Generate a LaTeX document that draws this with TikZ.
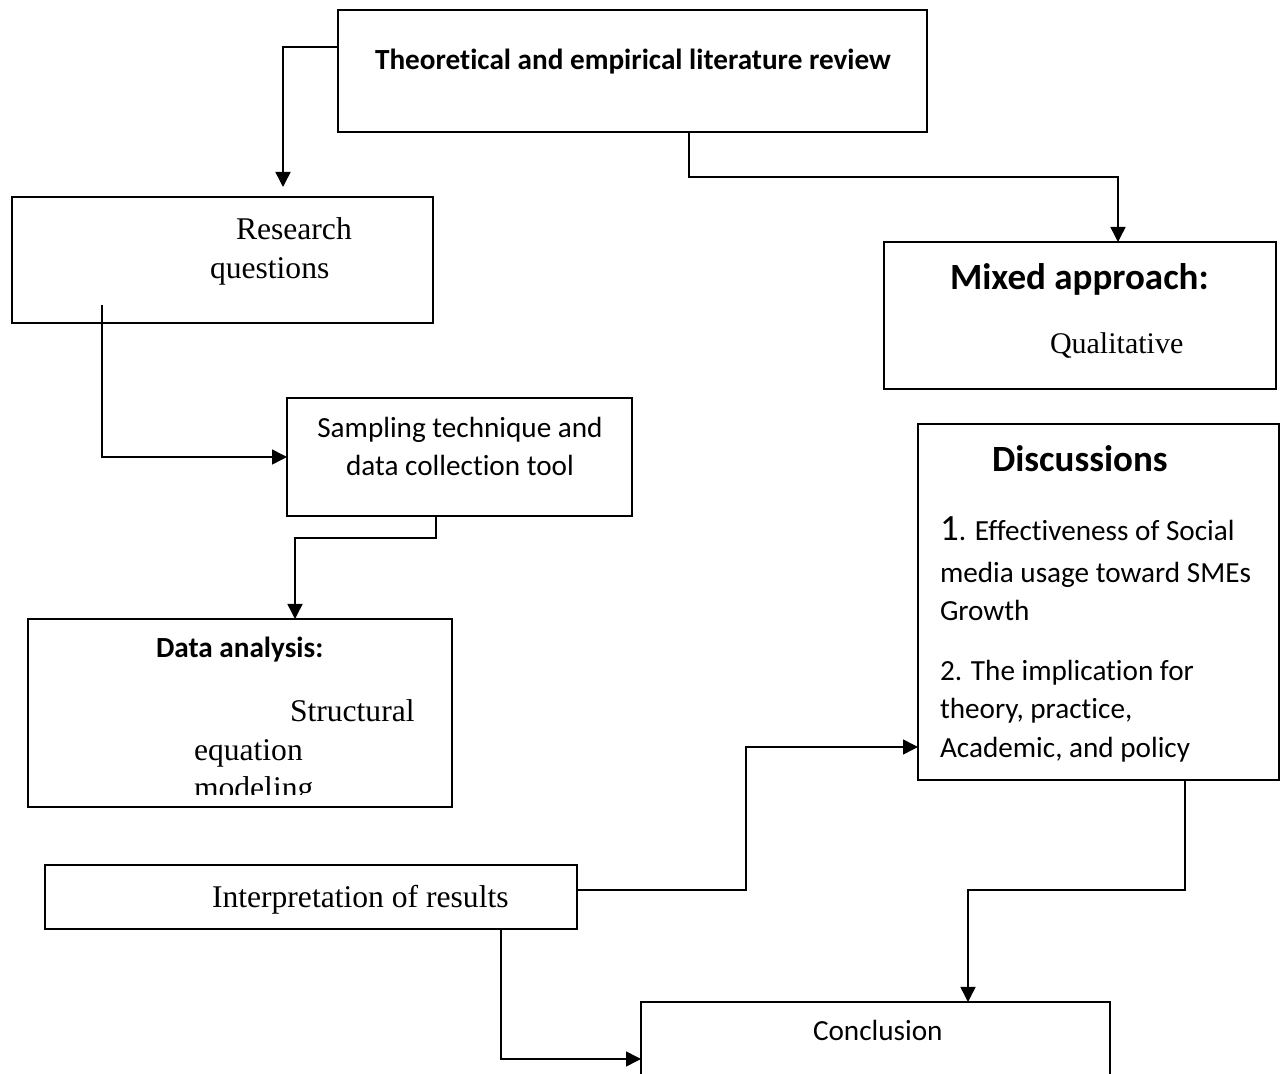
\documentclass[tikz,border=0pt]{standalone}
\usepackage{fontspec}
\usetikzlibrary{arrows.meta,calc}
\newfontfamily\calfont[Ligatures=NoCommon]{Carlito}
\newfontfamily\tmsfont{Liberation Serif}
\tikzset{
  box/.style={draw, line width=1.3pt, inner sep=0pt, outer sep=0pt, anchor=north west},
  conn/.style={line width=0.75pt, -{Triangle[length=7.5pt,width=7.5pt]}},
  txt/.style={inner sep=0pt, outer sep=0pt, anchor=base west},
  cal/.style={font=\calfont\fontsize{14.6}{17}\selectfont},
  calb/.style={font=\calfont\bfseries\fontsize{14.6}{17}\selectfont},
  calh/.style={font=\calfont\bfseries\fontsize{18.5}{22}\selectfont},
  tms/.style={font=\tmsfont\fontsize{15.8}{19}\selectfont}
}
\begin{document}
\begin{tikzpicture}[x=0.5pt,y=-0.5pt]
\useasboundingbox (0,0) rectangle (1282,1074);
% boxes
\node[box, minimum width=294.5pt, minimum height=61pt] (lit) at (338,10) {};
\node[box, minimum width=210.5pt, minimum height=63pt] (rq) at (12,197) {};
\node[box, minimum width=196pt, minimum height=73.5pt] (mix) at (884,242) {};
\node[box, minimum width=172.5pt, minimum height=59pt] (samp) at (287,398) {};
\node[box, minimum width=212pt, minimum height=94pt] (data) at (28,619) {};
\node[box, minimum width=180.5pt, minimum height=178pt] (disc) at (918,424) {};
\node[box, minimum width=266pt, minimum height=32pt] (interp) at (45,865) {};
\node[box, minimum width=234.5pt, minimum height=54pt] (concl) at (641,1002) {};
% texts
\node[txt, calb, anchor=base] (tlit) at (633,70) {Theoretical and empirical literature review};
\node[txt, tms] (trq1) at (236,240) {Research};
\node[txt, tms] (trq2) at (210,279) {questions};
\node[txt, calh] (tmix1) at (950,290) {Mixed approach:};
\node[txt, tms, font=\tmsfont\fontsize{15}{18}\selectfont] (tmix2) at (1050,354) {Qualitative};
\node[txt, cal, anchor=base] (tsamp1) at (460,438) {Sampling technique and};
\node[txt, cal, anchor=base] (tsamp2) at (460,476) {data collection tool};
\node[txt, calb] (tdata1) at (156,658) {Data analysis:};
\node[txt, tms] (tdata2) at (290,722) {Structural};
\node[txt, tms] (tdata3) at (194,761) {equation};
\begin{scope}
\clip (28,619) rectangle (452,795);
\node[txt, tms] (tdata4) at (194,799) {modeling};
\end{scope}
\node[txt, calh] (tdisc0) at (992,472) {Discussions};
\node[txt, cal] (tdisc1) at (940,541) {{\fontsize{18.5}{22}\selectfont 1}. Effectiveness of Social};
\node[txt, cal] (tdisc2) at (940,583) {media usage toward SMEs};
\node[txt, cal] (tdisc3) at (940,621) {Growth};
\node[txt, cal] (tdisc4) at (940,681) {2. The implication for};
\node[txt, cal] (tdisc5) at (940,719) {theory, practice,};
\node[txt, cal] (tdisc6) at (940,758) {Academic, and policy};
\node[txt, tms] (tinterp) at (212,908) {Interpretation of results};
\node[txt, cal] (tconcl) at (813,1041) {Conclusion};
% connectors
\draw[conn, shorten >=5pt] ($(lit.north west)+(0,37)$) -| ($(rq.north west)+(271,0)$);
\draw[conn] ($(lit.south west)+(351,0)$) -- ++(0,45) -| ($(mix.north west)+(234,0)$);
\draw[conn] ($(rq.south west)+(90,-18)$) |- ($(samp.north west)+(0,59)$);
\draw[conn] ($(samp.south west)+(149,0)$) -- ++(0,22) -| ($(data.north west)+(267,0)$);
\draw[conn] ($(interp.north east)+(0,25)$) -- ++(169,0) |- ($(disc.north west)+(0,323)$);
\draw[conn] ($(disc.south west)+(267,0)$) -- ++(0,110) -| ($(concl.north west)+(327,0)$);
\draw[conn] ($(interp.south west)+(456,0)$) |- ($(concl.north west)+(0,57)$);
\end{tikzpicture}
\end{document}
